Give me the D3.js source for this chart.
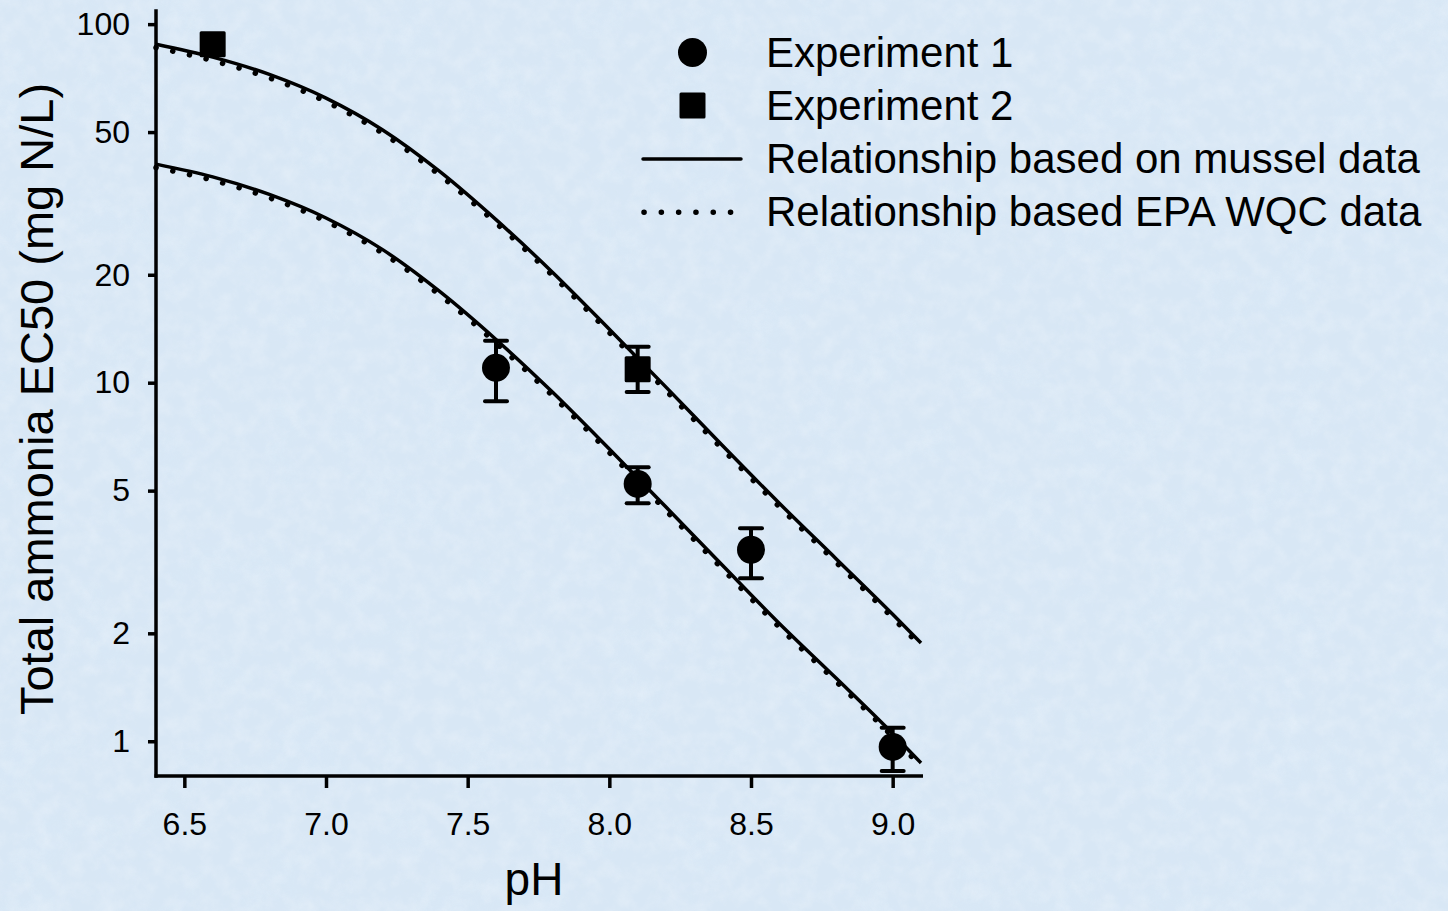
<!DOCTYPE html>
<html>
<head>
<meta charset="utf-8">
<script src="https://cdn.jsdelivr.net/npm/d3@7"></script>
<style>
  html, body { margin: 0; padding: 0; background: #d8e7f5; }
  svg { display: block; font-family: "Liberation Sans", Arial, sans-serif; }
</style>
</head>
<body>
<div id="my_dataviz"></div>
<script>
const curvePH = [6.4, 6.6, 6.8, 7.0, 7.2, 7.4, 7.6, 7.8, 8.0, 8.2, 8.4, 8.6, 8.8, 9.0, 9.1];

// relationship based on mussel data (solid)
const musselUpper = [87.9, 80.9, 72.4, 62.2, 50.7, 38.9, 28.5, 20.3, 14.1, 9.72, 6.67, 4.61, 3.23, 2.26, 1.88];
const musselLower = [40.7, 37.5, 33.5, 28.8, 23.5, 18.0, 13.2, 9.40, 6.53, 4.50, 3.09, 2.13, 1.50, 1.05, 0.87];

// relationship based on EPA WQC data (dotted)
const epaUpper = [86.0, 79.1, 70.8, 60.8, 49.6, 38.0, 27.9, 19.9, 13.8, 9.51, 6.52, 4.51, 3.16, 2.21, 1.84];
const epaLower = [39.8, 36.7, 32.8, 28.2, 23.0, 17.6, 12.9, 9.19, 6.39, 4.40, 3.02, 2.08, 1.47, 1.03, 0.85];

// Experiment 1 (circles)
const exp1PH = [7.6, 8.1, 8.5, 9.0];
const exp1EC50 = [11.0, 5.22, 3.42, 0.964];
const exp1Low = [8.87, 4.61, 2.85, 0.826];
const exp1High = [13.1, 5.81, 3.93, 1.09];

// Experiment 2 (squares)
const exp2PH = [6.6, 8.1];
const exp2EC50 = [87.9, 10.9];
const exp2Low = [null, 9.42];
const exp2High = [null, 12.6];

const xTicks = [6.5, 7.0, 7.5, 8.0, 8.5, 9.0];
const yTicks = [1, 2, 5, 10, 20, 50, 100];

const legendLabels = ["Experiment 1", "Experiment 2",
  "Relationship based on mussel data", "Relationship based EPA WQC data"];

const W = 1448, H = 911;

const svg = d3.select("#my_dataviz")
  .append("svg")
    .attr("width", W)
    .attr("height", H);

// paper-like blue background
const defs = svg.append("defs");
const flt = defs.append("filter").attr("id", "paper")
  .attr("x", 0).attr("y", 0).attr("width", "100%").attr("height", "100%");
flt.append("feTurbulence")
  .attr("type", "fractalNoise").attr("baseFrequency", 0.06)
  .attr("numOctaves", 4).attr("seed", 7);
flt.append("feColorMatrix").attr("type", "matrix")
  .attr("values", "0 0 0 0 1  0 0 0 0 1  0 0 0 0 1  1.2 0 0 0 -0.45");
const flt2 = defs.append("filter").attr("id", "paper2")
  .attr("x", 0).attr("y", 0).attr("width", "100%").attr("height", "100%");
flt2.append("feTurbulence")
  .attr("type", "fractalNoise").attr("baseFrequency", 0.015)
  .attr("numOctaves", 3).attr("seed", 2);
flt2.append("feColorMatrix").attr("type", "matrix")
  .attr("values", "0 0 0 0 0.70  0 0 0 0 0.82  0 0 0 0 0.95  1.2 0 0 0 -0.5");

svg.append("rect").attr("width", W).attr("height", H).attr("fill", "#d8e7f5");
svg.append("rect").attr("width", W).attr("height", H).attr("filter", "url(#paper2)").attr("opacity", 0.45);
svg.append("rect").attr("width", W).attr("height", H).attr("filter", "url(#paper)").attr("opacity", 0.35);

const x = d3.scaleLinear().domain([6.4, 9.1]).range([156, 921]);
const y = d3.scaleLog().domain([0.8, 110]).range([776, 9.3]);

// axes
const xAxis = svg.append("g")
  .attr("transform", "translate(0,776)")
  .call(d3.axisBottom(x).tickValues(xTicks).tickFormat(d3.format(".1f"))
    .tickSize(12).tickSizeOuter(0).tickPadding(24));
const yAxis = svg.append("g")
  .attr("transform", "translate(156,0)")
  .call(d3.axisLeft(y).tickValues(yTicks).tickFormat(d3.format("d"))
    .tickSize(8).tickSizeOuter(0).tickPadding(18));

[xAxis, yAxis].forEach(a => {
  a.select(".domain").attr("stroke", "#000").attr("stroke-width", 3.5);
  a.selectAll(".tick line").attr("stroke", "#000").attr("stroke-width", 3.5);
  a.selectAll(".tick text").attr("fill", "#000")
    .style("font-size", "32px").style("font-family", "'Liberation Sans', Arial, sans-serif");
});
xAxis.select(".domain").attr("d", "M154.5,0H923");
yAxis.select(".domain").attr("d", "M0,777.7V9.3");

// axis titles
svg.append("text")
  .attr("x", 534).attr("y", 895)
  .attr("text-anchor", "middle")
  .style("font-size", "46px")
  .text("pH");
svg.append("text")
  .attr("transform", "translate(53,399) rotate(-90)")
  .attr("text-anchor", "middle")
  .style("font-size", "47px")
  .text("Total ammonia EC50 (mg N/L)");

// curves
const line = d3.line()
  .x(d => x(d[0]))
  .y(d => y(d[1]))
  .curve(d3.curveMonotoneX);

function pairs(vals) { return curvePH.map((p, i) => [p, vals[i]]); }

[epaUpper, epaLower].forEach(vals => {
  svg.append("path")
    .datum(pairs(vals))
    .attr("fill", "none")
    .attr("stroke", "#000")
    .attr("stroke-width", 5.5)
    .attr("stroke-linecap", "round")
    .attr("stroke-dasharray", "0.1 17")
    .attr("d", line);
});
[musselUpper, musselLower].forEach(vals => {
  svg.append("path")
    .datum(pairs(vals))
    .attr("fill", "none")
    .attr("stroke", "#000")
    .attr("stroke-width", 3.5)
    .attr("d", line);
});

// error bars
function errorBars(ph, lo, hi) {
  const g = svg.append("g").attr("stroke", "#000").attr("stroke-width", 4);
  ph.forEach((p, i) => {
    if (lo[i] == null) return;
    const cx = x(p);
    g.append("line").attr("x1", cx).attr("x2", cx).attr("y1", y(lo[i])).attr("y2", y(hi[i]));
    g.append("line").attr("x1", cx - 11).attr("x2", cx + 11).attr("y1", y(lo[i])).attr("y2", y(lo[i]))
      .attr("stroke-linecap", "round");
    g.append("line").attr("x1", cx - 11).attr("x2", cx + 11).attr("y1", y(hi[i])).attr("y2", y(hi[i]))
      .attr("stroke-linecap", "round");
  });
}
errorBars(exp1PH, exp1Low, exp1High);
errorBars(exp2PH, exp2Low, exp2High);

// points
svg.append("g").selectAll("circle")
  .data(exp1PH.map((p, i) => [p, exp1EC50[i]]))
  .join("circle")
    .attr("cx", d => x(d[0]))
    .attr("cy", d => y(d[1]))
    .attr("r", 14)
    .attr("fill", "#000");
svg.append("g").selectAll("rect")
  .data(exp2PH.map((p, i) => [p, exp2EC50[i]]))
  .join("rect")
    .attr("x", d => x(d[0]) - 13)
    .attr("y", d => y(d[1]) - 13)
    .attr("width", 26).attr("height", 26)
    .attr("rx", 1.5)
    .attr("fill", "#000");

// legend
const leg = svg.append("g");
const rowY = [66.7, 119.5, 172.5, 225.5];
leg.selectAll("text")
  .data(legendLabels)
  .join("text")
    .attr("x", 766)
    .attr("y", (d, i) => rowY[i])
    .style("font-size", "42px")
    .text(d => d);
leg.append("circle").attr("cx", 692.5).attr("cy", 52.5).attr("r", 14.5).attr("fill", "#000");
leg.append("rect").attr("x", 679.5).attr("y", 92.5).attr("width", 26).attr("height", 26)
  .attr("rx", 1.5).attr("fill", "#000");
leg.append("line").attr("x1", 643).attr("x2", 741).attr("y1", 159).attr("y2", 159)
  .attr("stroke", "#000").attr("stroke-width", 3.5).attr("stroke-linecap", "round");
leg.append("line").attr("x1", 644).attr("x2", 731).attr("y1", 212.3).attr("y2", 212.3)
  .attr("stroke", "#000").attr("stroke-width", 5.5).attr("stroke-linecap", "round")
  .attr("stroke-dasharray", "0.1 17.2");
</script>
</body>
</html>
